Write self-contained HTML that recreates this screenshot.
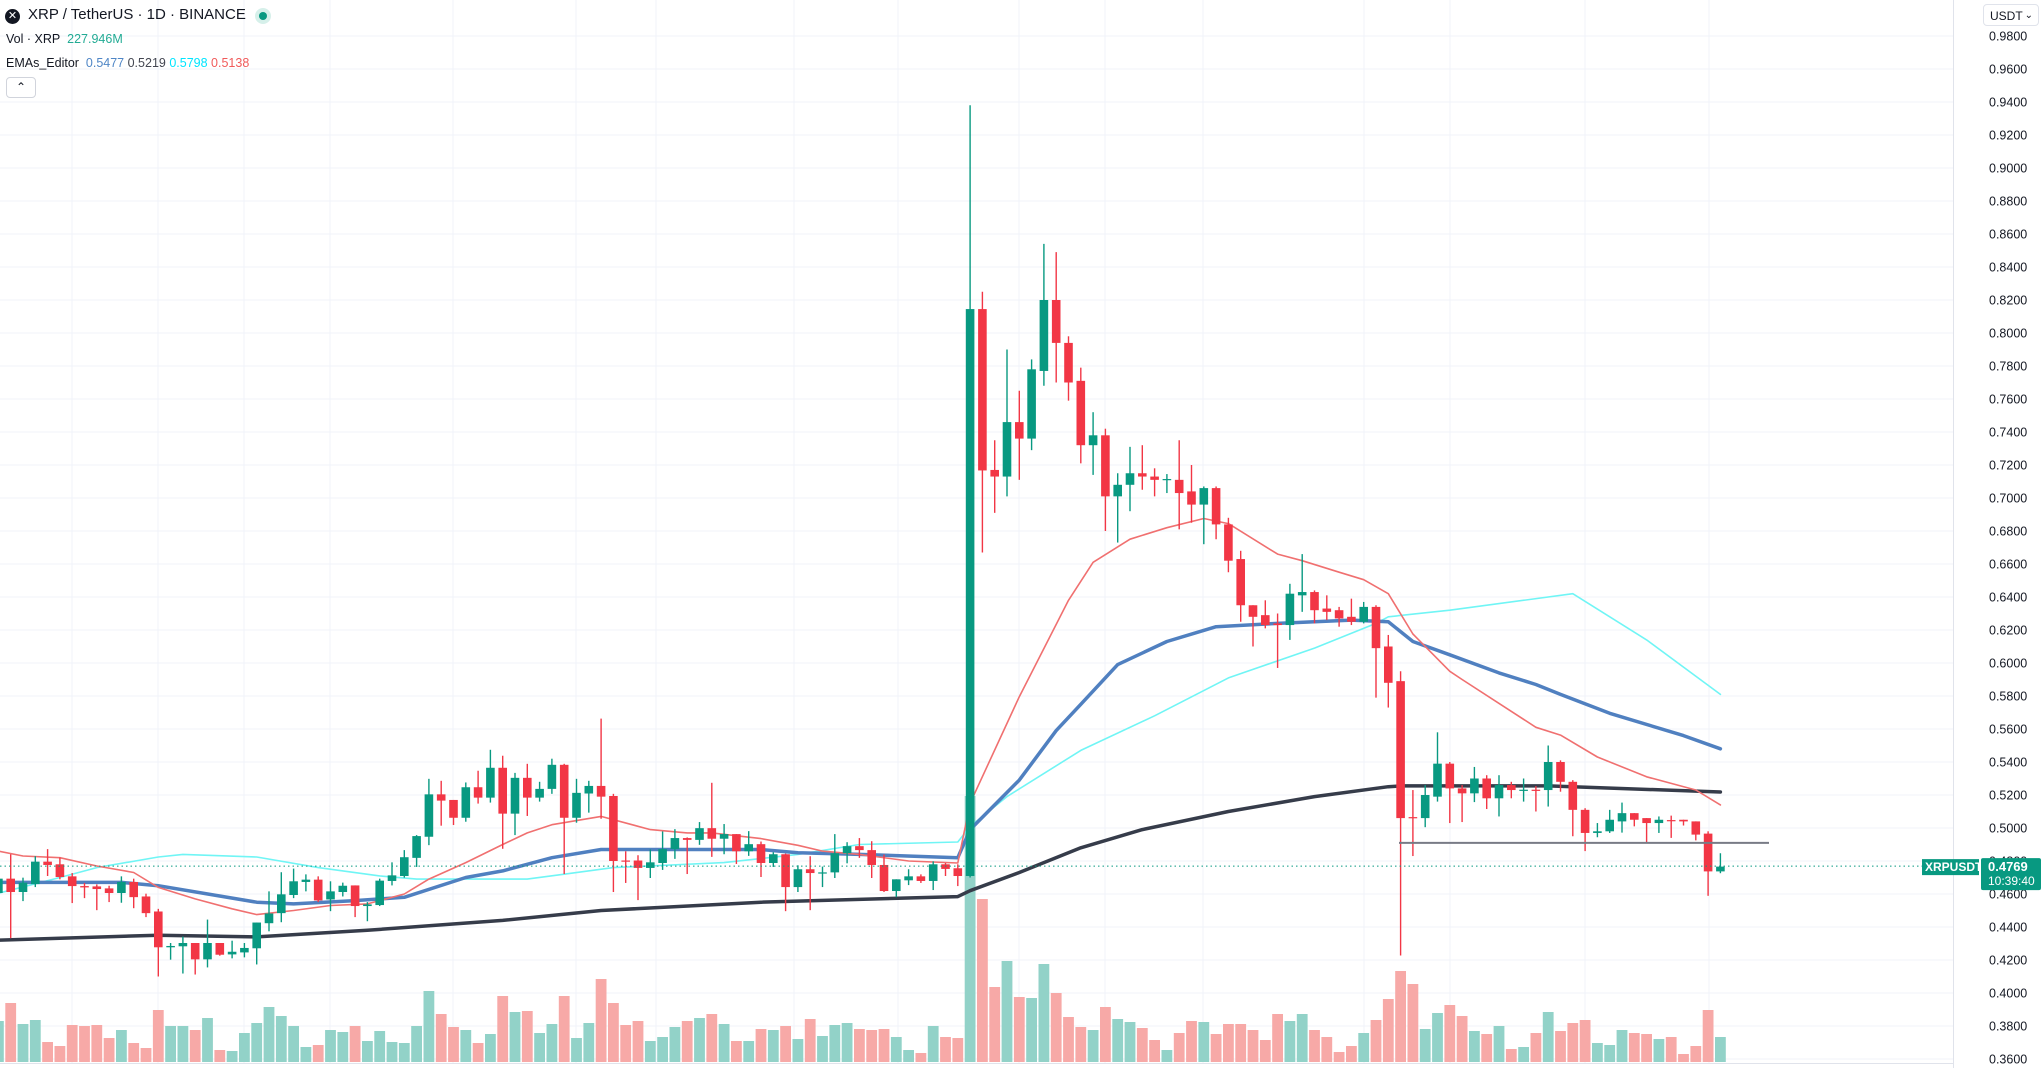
<!DOCTYPE html>
<html><head><meta charset="utf-8">
<style>
html,body{margin:0;padding:0;background:#fff;}
body{width:2043px;height:1068px;overflow:hidden;position:relative;font-family:"Liberation Sans",sans-serif;color:#131722;}
#chart{position:absolute;left:0;top:0;}
.hdr{position:absolute;left:0;top:0;}
.t1{position:absolute;left:28px;top:6px;font-size:15px;white-space:nowrap;}
.ico{position:absolute;left:5px;top:9px;width:15px;height:15px;border-radius:50%;background:#131722;color:#fff;font-size:11px;line-height:15px;text-align:center;}
.dot{position:absolute;left:255px;top:8px;width:16px;height:16px;border-radius:50%;background:#d6f0ea;}
.dot::after{content:"";position:absolute;left:4px;top:4px;width:8px;height:8px;border-radius:50%;background:#089981;}
.t2{position:absolute;left:6px;top:32px;font-size:12.5px;white-space:nowrap;}
.t3{position:absolute;left:6px;top:56px;font-size:12.5px;white-space:nowrap;}
.btn{position:absolute;left:6px;top:77px;width:28px;height:19px;border:1px solid #d1d4dc;border-radius:4px;background:#fff;text-align:center;font-size:12px;line-height:19px;}
.usdt{position:absolute;left:1983px;top:4px;width:56px;height:22px;border:1px solid #e0e3eb;border-radius:4px;background:#fff;font-size:12px;line-height:22px;padding-left:6px;box-sizing:border-box;}
</style></head><body>
<svg id="chart" width="2043" height="1068" xmlns="http://www.w3.org/2000/svg"></svg>
<div class="hdr">
  <div class="ico">✕</div>
  <div class="t1">XRP / TetherUS · 1D · BINANCE</div>
  <div class="dot"></div>
  <div class="t2">Vol · XRP&nbsp; <span style="color:#22ab94">227.946M</span></div>
  <div class="t3">EMAs_Editor&nbsp; <span style="color:#4f86c6">0.5477</span> <span style="color:#434651">0.5219</span> <span style="color:#00e5ff">0.5798</span> <span style="color:#f05a5a">0.5138</span></div>
  <div class="btn">⌃</div>
</div>
<div class="usdt">USDT <span style="position:absolute;right:5px;top:0;font-size:10px">⌄</span></div>
<script>
const opens=[.4606,.4693,.4612,.4660,.4796,.4780,.4707,.4648,.4646,.4634,.4606,.4673,.4585,.4494,.4277,.4283,.4303,.4204,.4303,.4234,.4246,.4271,.4423,.4484,.4594,.4673,.4687,.4567,.4612,.4652,.4527,.4533,.4679,.4709,.4819,.4947,.5204,.5170,.5062,.5247,.5184,.5365,.5087,.5304,.5184,.5237,.5383,.5062,.5209,.5255,.5194,.4803,.4803,.4758,.4788,.4872,.4939,.4928,.4999,.4935,.4963,.4859,.4902,.4788,.4841,.4642,.4750,.4727,.4731,.4847,.4890,.4866,.4776,.4618,.4683,.4707,.4679,.4780,.4756,.4709,.8145,.717,.713,.746,.736,.777,.820,.794,.771,.732,.738,.701,.708,.715,.713,.711,.711,.704,.696,.706,.684,.663,.635,.629,.624,.623,.641,.643,.633,.632,.628,.625,.634,.610,.589,.5066,.506,.519,.539,.524,.521,.530,.518,.526,.5228,.5232,.523,.540,.528,.511,.497,.498,.504,.509,.506,.503,.5048,.505,.504,.4966,.4737];
const highs=[.4703,.4841,.4699,.4829,.4872,.4821,.4727,.4667,.4658,.4650,.4707,.4693,.4602,.4510,.4303,.4342,.4303,.4445,.4303,.4317,.4303,.4427,.4616,.4732,.4754,.4719,.4707,.4677,.4669,.4652,.4551,.4693,.4792,.4866,.4957,.5298,.5286,.5170,.5276,.5347,.5474,.5438,.5334,.5389,.5280,.5420,.5389,.5298,.5286,.5663,.5207,.4859,.4835,.4870,.4979,.4993,.4943,.5036,.5274,.5024,.4963,.4981,.4918,.4853,.4845,.4774,.4829,.4766,.4963,.4914,.4939,.4920,.4839,.4689,.4750,.4719,.4798,.4788,.4780,.938,.825,.735,.790,.765,.784,.854,.849,.798,.779,.752,.742,.715,.731,.732,.718,.7145,.735,.720,.707,.707,.688,.668,.635,.638,.630,.648,.666,.644,.641,.634,.639,.637,.635,.617,.595,.523,.526,.558,.540,.526,.537,.532,.532,.528,.530,.5254,.550,.541,.529,.512,.503,.511,.5154,.509,.506,.507,.5075,.505,.504,.498,.4847];
const lows=[.4602,.4332,.4557,.4642,.4709,.4689,.4545,.4575,.4502,.4551,.4547,.4514,.4460,.4100,.4202,.4118,.4112,.4155,.4226,.4210,.4216,.4173,.4374,.4429,.4575,.4616,.4551,.4496,.4585,.4460,.4435,.4527,.4652,.4699,.4764,.4896,.5014,.5018,.5038,.5148,.5154,.4874,.4957,.5073,.5160,.5207,.4721,.5032,.5093,.5056,.4612,.4667,.4563,.4697,.4746,.4813,.4721,.4898,.4825,.4841,.4782,.4831,.4703,.4764,.4496,.4612,.4502,.4642,.4697,.4786,.4819,.4697,.4612,.4581,.4654,.4667,.4624,.4709,.4648,.4700,.667,.691,.701,.711,.729,.768,.770,.759,.721,.714,.680,.673,.692,.705,.701,.703,.681,.685,.672,.675,.655,.625,.610,.621,.597,.614,.631,.624,.626,.622,.623,.624,.579,.573,.4227,.483,.5005,.516,.503,.5036,.5157,.5115,.507,.518,.516,.510,.513,.522,.495,.486,.4944,.497,.4972,.501,.4908,.497,.494,.5015,.4925,.4589,.4726];
const closes=[.4693,.4612,.4669,.4796,.4776,.4703,.4648,.4640,.4630,.4606,.4673,.4581,.4484,.4277,.4285,.4303,.4204,.4303,.4232,.4250,.4273,.4427,.4482,.4598,.4677,.4687,.4561,.4616,.4650,.4527,.4537,.4681,.4713,.4823,.4951,.5204,.5166,.5062,.5247,.5184,.5365,.5087,.5304,.5184,.5237,.5383,.5062,.5213,.5255,.5190,.4800,.4798,.4758,.4792,.4872,.4939,.4928,.4999,.4935,.4963,.4859,.4902,.4788,.4841,.4642,.4750,.4727,.4731,.4847,.4890,.4866,.4776,.4618,.4689,.4707,.4679,.4780,.4752,.4709,.8145,.7167,.713,.746,.736,.778,.820,.794,.770,.732,.738,.701,.708,.715,.713,.711,.7115,.703,.696,.706,.684,.662,.635,.628,.623,.623,.642,.643,.632,.631,.627,.625,.634,.609,.588,.506,.5062,.520,.539,.524,.521,.530,.518,.526,.523,.5232,.5228,.540,.528,.511,.497,.498,.505,.509,.505,.503,.505,.5044,.504,.496,.4737,.4766];
const volumes=[369,531,342,378,180,144,333,324,333,216,288,171,126,468,324,324,288,396,108,99,261,351,495,414,324,135,153,288,270,324,189,279,180,171,324,639,432,315,288,171,252,594,450,459,261,342,594,216,351,747,531,333,369,189,225,315,369,396,432,342,189,189,297,288,324,207,387,234,333,351,297,288,297,225,108,81,324,225,216,2394,1467,675,909,585,576,882,621,405,315,288,495,387,360,306,198,108,261,369,360,252,342,342,288,198,432,369,432,288,225,90,144,261,378,567,819,702,297,441,513,414,279,252,324,117,135,261,450,279,351,378,171,153,288,261,252,207,225,72,144,468,225];
const emaBlueIdx=[0,10,13,21,24,29,33,38,41,45,49,56,62,65,70,78,79,83,86,88,91,95,99,104,110,113,115,118,122,125,127,131,137,140];
const emaBlueVal=[.467,.467,.465,.455,.454,.456,.458,.470,.474,.482,.487,.487,.487,.485,.484,.482,.499,.529,.559,.575,.599,.613,.622,.624,.626,.625,.613,.605,.594,.587,.581,.5695,.556,.548];
const emaDarkIdx=[0,13,21,30,41,49,62,78,79,83,88,93,100,107,113,114,126,140];
const emaDarkVal=[.432,.435,.434,.438,.444,.450,.455,.4584,.462,.473,.488,.499,.510,.519,.525,.5255,.5255,.5218];
const emaCyanIdx=[0,5,8,13,15,21,26,31,34,41,43,46,50,59,65,70,78,79,82,88,94,100,107,112,113,118,128,134,140];
const emaCyanVal=[.4605,.470,.476,.4824,.484,.4824,.476,.471,.469,.469,.469,.472,.476,.479,.484,.490,.4915,.501,.519,.547,.568,.591,.609,.624,.628,.632,.642,.614,.581];
const emaRedIdx=[0,2,5,8,11,13,16,19,21,24,27,30,33,35,38,41,43,45,49,53,56,58,62,65,67,70,74,78,79,83,87,89,92,95,98,100,104,106,109,111,113,115,118,119,125,127,130,134,138,140];
const emaRedVal=[.486,.483,.482,.477,.473,.464,.457,.451,.4475,.450,.453,.454,.460,.469,.479,.490,.497,.502,.507,.499,.497,.497,.4936,.4895,.486,.484,.480,.4788,.515,.5796,.638,.661,.675,.682,.6876,.6845,.666,.662,.655,.6505,.642,.6176,.595,.590,.561,.5563,.543,.531,.523,.514];
const priceTicks=[0.98,0.96,0.94,0.92,0.90,0.88,0.86,0.84,0.82,0.80,0.78,0.76,0.74,0.72,0.70,0.68,0.66,0.64,0.62,0.60,0.58,0.56,0.54,0.52,0.50,0.48,0.46,0.44,0.42,0.40,0.38,0.36];
const supportLevel=0.491;
const lastPrice=0.4769;
const lastTime="10:39:40";

const NS="http://www.w3.org/2000/svg";
const svg=document.getElementById('chart');
const PLOT_R=1953;
const yScale=p=>36+(0.98-p)*1650;
const xScale=i=>-1.6+12.3*i;
const VOL_BASE=1062, VOL_MAX=2394, VOL_H=266;
const vScale=v=>VOL_BASE-v/VOL_MAX*VOL_H;
function mk(tag,attrs,parent){const e=document.createElementNS(NS,tag);for(const k in attrs)e.setAttribute(k,attrs[k]);(parent||svg).appendChild(e);return e;}

const grid=mk('g',{});


[72,158,244,330,453,576,656,794,898,1019,1105,1203,1364,1450,1585,1709].forEach(x=>{
  const l=mk('line',{x1:x,y1:0,x2:x,y2:1063,stroke:'#f0f3fa','stroke-width':1},grid);
  
  
});
priceTicks.forEach(p=>{
  const l=mk('line',{x1:0,y1:yScale(p),x2:PLOT_R,y2:yScale(p),stroke:'#f0f3fa','stroke-width':1},grid);
  
  
});

const vg=mk('g',{});


volumes.forEach((v,i)=>{
  const up=closes[i]>=opens[i];
  const y=vScale(v);
  const r=mk('rect',{x:xScale(i)-5.4,y:y,width:10.8,height:VOL_BASE-y,fill:up?'#92d2c8':'#f7a9a7'},vg);
  
  
});

function line(idx,val,color,w,name){
  const d=idx.map((k,j)=>(j?'L':'M')+xScale(k).toFixed(1)+','+yScale(val[j]).toFixed(1)).join('');
  const p=mk('path',{d:d,fill:'none',stroke:color,'stroke-width':w,'stroke-linejoin':'round','stroke-linecap':'round'});
  
  
}
line(emaDarkIdx,emaDarkVal,'#363c4a',3.5,'ema-200-line');
line(emaCyanIdx,emaCyanVal,'#70f5f5',1.6,'ema-cyan-line');
line(emaBlueIdx,emaBlueVal,'#5080c0',3.5,'ema-blue-line');
line(emaRedIdx,emaRedVal,'#f07070',1.6,'ema-red-line');

const cg=mk('g',{});


opens.forEach((o,i)=>{
  const c=closes[i],up=c>=o,col=up?'#089981':'#f23645',x=xScale(i);
  const w=mk('line',{x1:x,y1:yScale(highs[i]),x2:x,y2:yScale(lows[i]),stroke:col,'stroke-width':1.4},cg);
  
  
  const top=yScale(Math.max(o,c)),bot=yScale(Math.min(o,c));
  const b=mk('rect',{x:x-4.3,y:top,width:8.6,height:Math.max(1.2,bot-top),fill:col},cg);
  
  
});

const sl=mk('line',{x1:1399,y1:yScale(supportLevel),x2:1769,y2:yScale(supportLevel),stroke:'#787b86','stroke-width':2});


const pl=mk('line',{x1:0,y1:yScale(lastPrice),x2:1922,y2:yScale(lastPrice),stroke:'#089981','stroke-width':1,'stroke-dasharray':'1.5 3'});



const ax=mk('g',{});


mk('rect',{x:PLOT_R,y:0,width:90,height:1068,fill:'#fff'},ax);
mk('line',{x1:PLOT_R+0.5,y1:0,x2:PLOT_R+0.5,y2:1068,stroke:'#e0e3eb'},ax);
mk('line',{x1:0,y1:1063.5,x2:PLOT_R,y2:1063.5,stroke:'#e0e3eb'},ax);
priceTicks.forEach(p=>{
  const t=mk('text',{x:1989,y:yScale(p)+4.5,'font-size':12.5,fill:'#131722','font-family':'Liberation Sans, sans-serif'},ax);
  t.textContent=p.toFixed(4);
  
  
});
const ly=yScale(lastPrice);
const sb=mk('rect',{x:1922,y:ly-7,width:57,height:16,fill:'#089981'});


const st=mk('text',{x:1925,y:ly+5,'font-size':12,fill:'#fff','font-weight':'bold','font-family':'Liberation Sans, sans-serif'});
st.textContent='XRPUSDT';


const pb=mk('rect',{x:1981,y:ly-8,width:60,height:32,rx:2,fill:'#089981'});


const pt=mk('text',{x:1988,y:ly+5,'font-size':13,fill:'#fff','font-weight':'bold','font-family':'Liberation Sans, sans-serif'});
pt.textContent=lastPrice.toFixed(4);


const tt=mk('text',{x:1988,y:ly+19,'font-size':12,fill:'#fff','font-family':'Liberation Sans, sans-serif'});
tt.textContent=lastTime;


</script>
</body></html>
